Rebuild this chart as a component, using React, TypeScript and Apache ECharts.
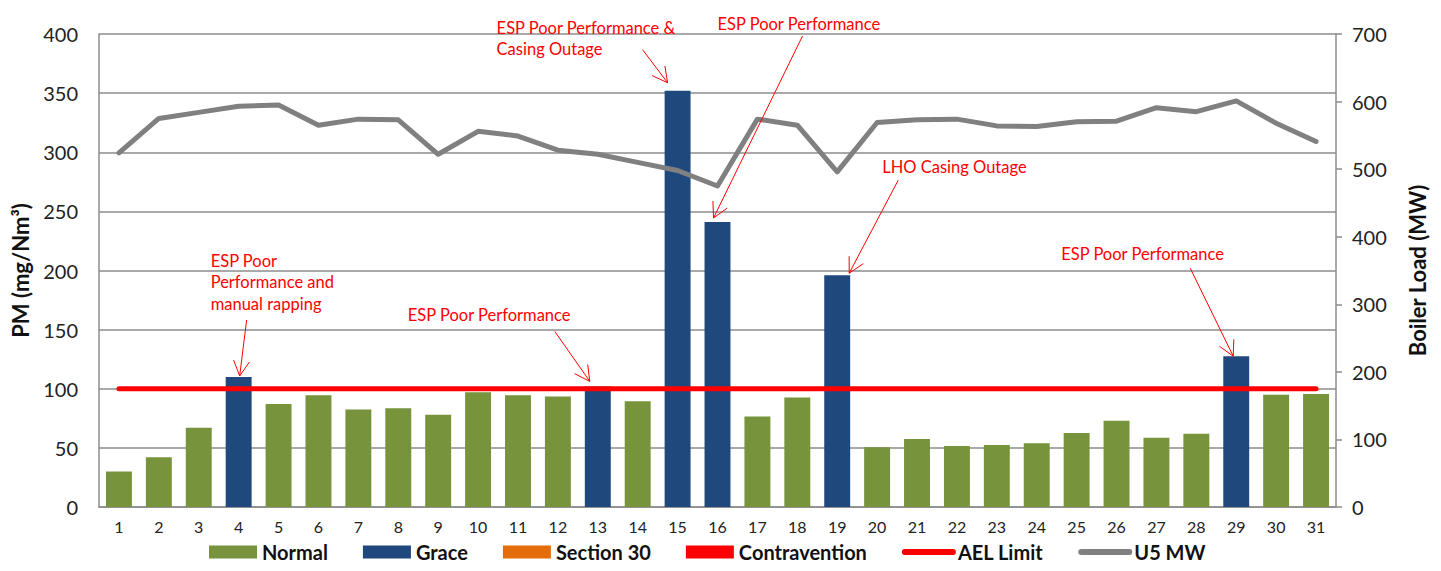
import React, { useEffect, useRef } from "react";
import * as echarts from "echarts";

const days = ["1","2","3","4","5","6","7","8","9","10","11","12","13","14","15","16","17","18","19","20","21","22","23","24","25","26","27","28","29","30","31"];
const pmValues = [30, 42, 67, 110, 87, 94.5, 82.5, 83.5, 78, 97, 94.5, 93.5, 102, 89.5, 352, 241, 76.5, 92.5, 196, 50.5, 57.5, 51.5, 52.5, 54, 62.5, 73, 58.5, 62, 127.5, 95, 95.5];
const dayStatus = ["N","N","N","G","N","N","N","N","N","N","N","N","G","N","G","G","N","N","G","N","N","N","N","N","N","N","N","N","G","N","N"];
const u5MW = [524, 575, 584, 593, 595, 565, 574, 573, 522, 556, 549, 528, 522, 510, 498, 475, 574, 565, 496, 569, 573, 574, 564, 563, 570, 571, 591, 585, 601, 568, 541];
const aelLimit = [100,100,100,100,100,100,100,100,100,100,100,100,100,100,100,100,100,100,100,100,100,100,100,100,100,100,100,100,100,100,100];
const seriesNames = ["Normal", "Grace", "Section 30", "Contravention", "AEL Limit", "U5 MW"];

// annotation texts and the day they point to
const annotations = [
  { lines: ["ESP Poor", "Performance and", "manual rapping"], day: 4 },
  { lines: ["ESP Poor Performance"], day: 13 },
  { lines: ["ESP Poor Performance &", "Casing Outage"], day: 15 },
  { lines: ["ESP Poor Performance"], day: 16 },
  { lines: ["LHO Casing Outage"], day: 19 },
  { lines: ["ESP Poor Performance"], day: 29 },
];
// layout offsets (pixels, relative to the bar top)
const annLayout = [
  { tip: [1, -1], tail: [8, -57], text: [-28, -116] },
  { tip: [-8, -5], tail: [-43, -55], text: [-190, -71] },
  { tip: [-10, -8], tail: [-35, -41], text: [-181, -63] },
  { tip: [-4, -4], tail: [85, -186], text: [0, -198] },
  { tip: [12, -2], tail: [61, -95], text: [45, -108] },
  { tip: [-3, 0], tail: [-46, -88], text: [-175, -102] },
];

const FONT = "Lato, 'Noto Sans', sans-serif";
const GREEN = "#77933C";
const BLUE = "#1F497D";
const ORANGE = "#E46C0A";
const RED = "#FF0000";
const GRAY = "#808080";
const AXIS_GRAY = "#8C8C8C";

export default function App() {
  const ref = useRef<HTMLDivElement>(null);
  useEffect(() => {
    document.body.style.margin = "0";
    const chart = echarts.init(ref.current!, null, { renderer: "svg" });
    const normalData = pmValues.map((v, i) => (dayStatus[i] === "N" ? v : null));
    const graceData = pmValues.map((v, i) => (dayStatus[i] === "G" ? v : null));
    const emptyData = pmValues.map(() => null);
    const option: any = {
      animation: false,
      textStyle: { fontFamily: FONT },
      grid: { left: 99, right: 105, top: 34, bottom: 64, containLabel: false },
      legend: {
        bottom: 4,
        left: 204,
        itemWidth: 48,
        itemHeight: 13,
        itemGap: 35,
        textStyle: { fontSize: 20, fontWeight: "bold", color: "#111", fontFamily: FONT },
        data: seriesNames.map((n) =>
          n === "AEL Limit" || n === "U5 MW"
            ? { name: n, itemStyle: { opacity: 0 }, lineStyle: { width: 6, cap: "round" } }
            : { name: n, icon: "rect" }
        ),
      },
      xAxis: {
        type: "category",
        data: days,
        boundaryGap: true,
        axisLine: { lineStyle: { color: AXIS_GRAY, width: 1.5 } },
        axisTick: { alignWithLabel: true, length: 5, lineStyle: { color: AXIS_GRAY, width: 1.5 } },
        axisLabel: { fontSize: 16, color: "#222", margin: 11, fontFamily: FONT },
      },
      yAxis: [
        {
          type: "value",
          min: 0,
          max: 400,
          interval: 50,
          position: "left",
          name: "PM (mg/Nm³)",
          nameLocation: "middle",
          nameGap: 68,
          nameRotate: 90,
          nameTextStyle: { fontSize: 22, fontWeight: "bold", color: "#111", fontFamily: FONT },
          axisLine: { show: true, lineStyle: { color: AXIS_GRAY, width: 1.5 } },
          axisTick: { show: false },
          axisLabel: { fontSize: 20, color: "#222", margin: 21, fontFamily: FONT },
          splitLine: { show: true, lineStyle: { color: AXIS_GRAY, width: 1.5 } },
        },
        {
          type: "value",
          min: 0,
          max: 700,
          interval: 100,
          position: "right",
          name: "Boiler Load (MW)",
          nameLocation: "middle",
          nameGap: 70,
          nameRotate: 90,
          nameTextStyle: { fontSize: 22, fontWeight: "bold", color: "#111", fontFamily: FONT },
          axisLine: { show: true, lineStyle: { color: AXIS_GRAY, width: 1.5 } },
          axisTick: { show: true, length: 6, lineStyle: { color: AXIS_GRAY, width: 1.5 } },
          axisLabel: { fontSize: 20, color: "#222", margin: 16, fontFamily: FONT },
          splitLine: { show: false },
        },
      ],
      series: [
        { name: "Normal", type: "bar", stack: "pm", data: normalData, barCategoryGap: "35%", itemStyle: { color: GREEN }, z: 2 },
        { name: "Grace", type: "bar", stack: "pm", data: graceData, itemStyle: { color: BLUE }, z: 2 },
        { name: "Section 30", type: "bar", stack: "pm", data: emptyData, itemStyle: { color: ORANGE }, z: 2 },
        { name: "Contravention", type: "bar", stack: "pm", data: emptyData, itemStyle: { color: RED }, z: 2 },
        {
          name: "AEL Limit", type: "line", data: aelLimit, yAxisIndex: 0, symbol: "none", z: 4,
          itemStyle: { color: RED }, lineStyle: { color: RED, width: 5, cap: "round" },
        },
        {
          name: "U5 MW", type: "line", data: u5MW, yAxisIndex: 1, symbol: "none", z: 5,
          itemStyle: { color: GRAY }, lineStyle: { color: GRAY, width: 5, cap: "round", join: "round" },
        },
      ],
    };
    chart.setOption(option);

    const graphics: any[] = [];
    annotations.forEach((a, k) => {
      const L = annLayout[k];
      const idx = a.day - 1;
      const p = chart.convertToPixel({ xAxisIndex: 0, yAxisIndex: 0 }, [idx, pmValues[idx]]) as number[];
      const tip = [p[0] + L.tip[0], p[1] + L.tip[1]];
      const tail = [p[0] + L.tail[0], p[1] + L.tail[1]];
      const ang = Math.atan2(tail[1] - tip[1], tail[0] - tip[0]);
      const hl = 17;
      const da = (28 * Math.PI) / 180;
      const h1 = [tip[0] + hl * Math.cos(ang + da), tip[1] + hl * Math.sin(ang + da)];
      const h2 = [tip[0] + hl * Math.cos(ang - da), tip[1] + hl * Math.sin(ang - da)];
      graphics.push({ type: "line", shape: { x1: tail[0], y1: tail[1], x2: tip[0], y2: tip[1] }, style: { stroke: RED, lineWidth: 1 }, z: 100 });
      graphics.push({ type: "polyline", shape: { points: [h1, tip, h2] }, style: { stroke: RED, lineWidth: 1, fill: null }, z: 100 });
      a.lines.forEach((ln, j) => {
        graphics.push({
          type: "text",
          x: p[0] + L.text[0],
          y: p[1] + L.text[1] + j * 21.5,
          style: { text: ln, fill: RED, font: `16.5px ${FONT}`, textAlign: "left", textVerticalAlign: "middle" },
          z: 100,
        });
      });
    });
    chart.setOption({ graphic: graphics });
    return () => chart.dispose();
  }, []);
  return <div ref={ref} style={{ width: 1441, height: 571 }} />;
}
